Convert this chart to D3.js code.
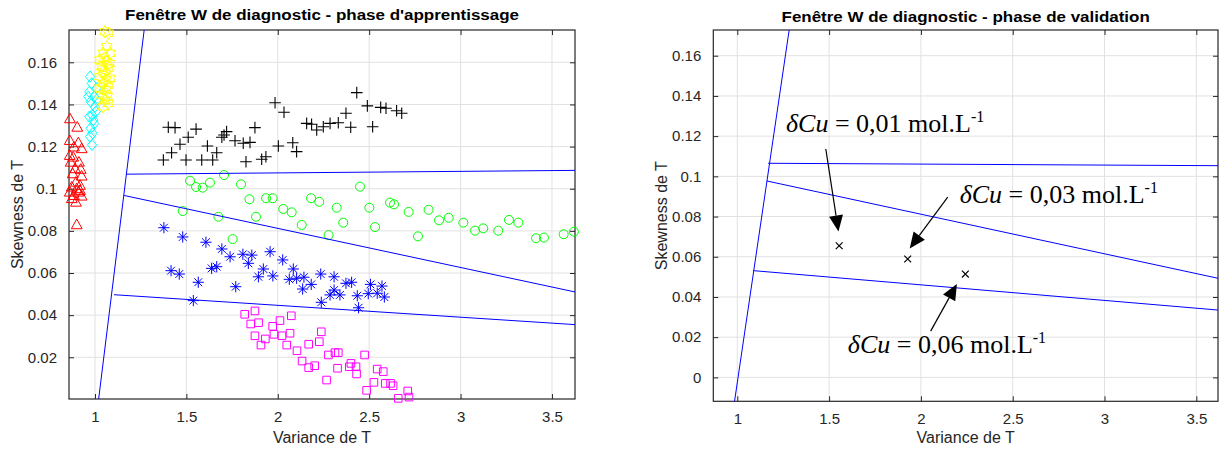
<!DOCTYPE html>
<html><head><meta charset="utf-8">
<script src="https://cdn.jsdelivr.net/npm/d3@7"></script>
<style>body{margin:0;background:#fff}</style>
</head><body>
<svg id="c" width="1220" height="450"></svg>
<script>
// ---------------- DATA ----------------
const xTicks = [1, 1.5, 2, 2.5, 3, 3.5];
const yTicksLeft = [0.02, 0.04, 0.06, 0.08, 0.1, 0.12, 0.14, 0.16];
const yTicksRight = [0, 0.02, 0.04, 0.06, 0.08, 0.1, 0.12, 0.14, 0.16];

const redTriangles = [[0.863,0.1334],[0.903,0.1294],[0.862,0.1231],[0.909,0.1220],[0.885,0.1200],[0.927,0.1192],
 [0.862,0.1160],[0.881,0.1152],[0.912,0.1128],[0.867,0.1128],[0.891,0.1097],[0.922,0.1094],[0.878,0.1073],
 [0.927,0.1062],[0.896,0.1033],[0.918,0.1018],[0.873,0.1010],[0.900,0.1002],[0.918,0.0994],[0.862,0.0986],
 [0.909,0.0986],[0.885,0.0970],[0.927,0.0967],[0.873,0.0955],[0.896,0.0938],[0.900,0.0831]];
const cyanDiamonds = [[0.973,0.1532],[0.982,0.1500],[1.009,0.1477],[0.969,0.1460],[0.995,0.1437],[0.963,0.1437],
 [1.009,0.1421],[0.976,0.1413],[1.000,0.1389],[1.005,0.1366],[0.984,0.1350],[0.969,0.1342],[0.991,0.1326],
 [0.996,0.1309],[0.976,0.1287],[0.987,0.1263],[0.973,0.1247],[0.984,0.1208]];
const yellowHexagrams = [[1.055,0.1745],[1.073,0.1738],[1.064,0.1674],[1.045,0.1643],[1.082,0.1643],[1.049,0.1619],
 [1.027,0.1611],[1.064,0.1603],[1.078,0.1595],[1.037,0.1579],[1.073,0.1572],[1.042,0.1555],[1.055,0.1548],
 [1.027,0.1532],[1.082,0.1524],[1.060,0.1516],[1.045,0.1500],[1.073,0.1492],[1.027,0.1477],[1.060,0.1469],
 [1.037,0.1445],[1.067,0.1437],[1.055,0.1421],[1.073,0.1405],[1.045,0.1389]];
const blackPlus = [[1.374,0.1136],[1.419,0.1171],[1.465,0.1211],[1.401,0.1292],[1.438,0.1290],[1.510,0.1244],
 [1.553,0.1283],[1.498,0.1136],[1.584,0.1136],[1.615,0.1203],[1.644,0.1136],[1.666,0.1171],[1.694,0.1244],
 [1.706,0.1255],[1.720,0.1271],[1.766,0.1228],[1.811,0.1216],[1.848,0.1220],[1.875,0.1290],[1.826,0.1128],
 [1.912,0.1140],[1.935,0.1152],[1.985,0.1408],[2.034,0.1363],[2.003,0.1203],[2.082,0.1218],[2.103,0.1176],
 [2.158,0.1310],[2.185,0.1306],[2.213,0.1279],[2.249,0.1294],[2.286,0.1310],[2.331,0.1313],[2.373,0.1358],
 [2.399,0.1292],[2.432,0.1456],[2.490,0.1393],[2.519,0.1294],[2.563,0.1386],[2.592,0.1382],[2.650,0.1370],
 [2.678,0.1358]];
const greenCircles = [[1.480,0.0894],[1.520,0.1038],[1.553,0.1008],[1.589,0.1005],[1.629,0.1029],[1.675,0.0867],
 [1.706,0.1065],[1.753,0.0761],[1.799,0.1021],[1.845,0.0950],[1.881,0.0867],[1.936,0.0955],[1.972,0.0955],
 [2.030,0.0904],[2.076,0.0888],[2.131,0.0828],[2.182,0.0955],[2.227,0.0938],[2.278,0.0780],[2.322,0.0910],
 [2.358,0.0839],[2.450,0.1010],[2.501,0.0910],[2.532,0.0818],[2.614,0.0934],[2.636,0.0926],[2.716,0.0890],
 [2.767,0.0774],[2.825,0.0900],[2.882,0.0850],[2.935,0.0862],[3.015,0.0839],[3.079,0.0801],[3.124,0.0812],
 [3.206,0.0801],[3.265,0.0852],[3.316,0.0839],[3.413,0.0765],[3.456,0.0768],[3.564,0.0784],[3.620,0.0796]];
const blueStars = [[1.377,0.0815],[1.480,0.0771],[1.607,0.0746],[1.694,0.0714],[1.739,0.0677],[1.809,0.0689],
 [1.858,0.0685],[1.839,0.0646],[1.958,0.0701],[2.027,0.0662],[2.085,0.0619],[1.416,0.0611],[1.461,0.0595],
 [1.565,0.0556],[1.638,0.0622],[1.666,0.0630],[1.770,0.0535],[1.894,0.0582],[1.921,0.0619],[1.973,0.0586],
 [2.063,0.0570],[2.103,0.0575],[2.143,0.0580],[2.136,0.0524],[2.183,0.0546],[1.538,0.0469],[2.235,0.0595],
 [2.308,0.0582],[2.308,0.0519],[2.286,0.0496],[2.340,0.0496],[2.238,0.0461],[2.373,0.0551],[2.404,0.0556],
 [2.435,0.0492],[2.442,0.0435],[2.507,0.0546],[2.495,0.0502],[2.544,0.0504],[2.570,0.0538],[2.583,0.0486]];
const magentaSquares = [[1.819,0.0404],[1.875,0.0420],[1.852,0.0358],[1.895,0.0364],[1.875,0.0302],[1.932,0.0287],
 [1.908,0.0258],[1.972,0.0347],[1.979,0.0309],[2.012,0.0374],[2.023,0.0302],[2.067,0.0314],[2.074,0.0397],
 [2.049,0.0258],[2.105,0.0231],[2.133,0.0182],[2.169,0.0151],[2.202,0.0160],[2.169,0.0262],[2.227,0.0274],
 [2.238,0.0321],[2.277,0.0211],[2.313,0.0222],[2.331,0.0222],[2.327,0.0148],[2.267,0.0092],[2.391,0.0155],
 [2.400,0.0171],[2.428,0.0155],[2.431,0.0121],[2.475,0.0211],[2.544,0.0144],[2.577,0.0132],[2.526,0.0081],
 [2.486,0.0043],[2.588,0.0076],[2.617,0.0076],[2.631,0.0065],[2.659,0.0005],[2.711,0.0040],[2.718,0.0011]];

// decision boundaries (segments) in data units
const boundariesLeft = [
  [[1.020,0.0002],[1.269,0.1753]],
  [[1.171,0.1069],[3.626,0.1087]],
  [[1.159,0.0968],[3.626,0.0510]],
  [[1.104,0.0497],[3.626,0.0355]]
];
const boundariesRight = [
  [[0.985,-0.0119],[1.2825,0.1728]],
  [[1.168,0.1065],[3.618,0.1053]],
  [[1.161,0.0977],[3.618,0.0493]],
  [[1.087,0.0531],[3.618,0.0335]]
];
const validationPoints = [[1.555,0.0655],[1.928,0.0589],[2.242,0.0514]];
const concentrations = ["0,01", "0,03", "0,06"];

// ---------------- LAYOUT ----------------
const svg = d3.select("#c");
const FONT = "'Liberation Sans', Arial, Helvetica, sans-serif";
const AX = "#262626";

const panels = [
  {title:"Fenêtre W de diagnostic - phase d'apprentissage", left:69, right:575, top:30, bottom:399,
   xd:[0.8578,3.626], yd:[0.00020,0.17533], yTicks:yTicksLeft, lines:boundariesLeft, titleY:20, id:"L"},
  {title:"Fenêtre W de diagnostic - phase de validation", left:713.3, right:1218, top:30, bottom:401.3,
   xd:[0.8693,3.618], yd:[-0.01189,0.17279], yTicks:yTicksRight, lines:boundariesRight, titleY:22, id:"R"}
];

function fmt(v){ return String(+v.toFixed(3)); }

// marker shapes
const shapes = {
  triangle: "M0,-5.2L5.4,4.4L-5.4,4.4Z",
  diamond: "M0,-5.6L4.6,0L0,5.6L-4.6,0Z",
  square: "M-3.8,-3.8H3.8V3.8H-3.8Z",
  plus: "M-5.8,0H5.8M0,-5.8V5.8",
  star: "M-5.6,0H5.6M0,-5.6V5.6M-3.9,-3.9L3.9,3.9M-3.9,3.9L3.9,-3.9",
  xmark: "M-3.4,-3.4L3.4,3.4M-3.4,3.4L3.4,-3.4",
  hexagram: (function(){
    const R=6.2, r=R/Math.sqrt(3); let p=[];
    for(let i=0;i<12;i++){const a=-Math.PI/2+i*Math.PI/6; const rr=i%2?r:R; p.push([rr*Math.cos(a),rr*Math.sin(a)]);}
    return "M"+p.map(d=>d[0].toFixed(2)+","+d[1].toFixed(2)).join("L")+"Z";
  })()
};

panels.forEach(P=>{
  const x = d3.scaleLinear().domain(P.xd).range([P.left,P.right]);
  const y = d3.scaleLinear().domain(P.yd).range([P.bottom,P.top]);
  P.x=x; P.y=y;
  const g = svg.append("g");
  const W=P.right-P.left, H=P.bottom-P.top;
  g.append("rect").attr("x",P.left).attr("y",P.top).attr("width",W).attr("height",H).attr("fill","#fff");
  // grid
  g.append("g").selectAll("line").data(xTicks).join("line")
    .attr("x1",d=>x(d)).attr("x2",d=>x(d)).attr("y1",P.top).attr("y2",P.bottom)
    .attr("stroke","#e1e1e1").attr("stroke-width",1);
  g.append("g").selectAll("line").data(P.yTicks).join("line")
    .attr("y1",d=>y(d)).attr("y2",d=>y(d)).attr("x1",P.left).attr("x2",P.right)
    .attr("stroke","#e1e1e1").attr("stroke-width",1);
  // axes using d3 axes (ticks inward)
  const ax = g.append("g").attr("transform",`translate(0,${P.bottom})`)
    .call(d3.axisBottom(x).tickValues(xTicks).tickFormat(fmt).tickSizeInner(-5).tickSizeOuter(0).tickPadding(12));
  const ay = g.append("g").attr("transform",`translate(${P.left},0)`)
    .call(d3.axisLeft(y).tickValues(P.yTicks).tickFormat(fmt).tickSizeInner(-5).tickSizeOuter(0).tickPadding(12));
  const axT = g.append("g").attr("transform",`translate(0,${P.top})`)
    .call(d3.axisTop(x).tickValues(xTicks).tickFormat("").tickSizeInner(-5).tickSizeOuter(0));
  const ayR = g.append("g").attr("transform",`translate(${P.right},0)`)
    .call(d3.axisRight(y).tickValues(P.yTicks).tickFormat("").tickSizeInner(-5).tickSizeOuter(0));
  [ax,ay,axT,ayR].forEach(a=>{
    a.select(".domain").remove();
    a.selectAll(".tick line").attr("stroke",AX);
    a.selectAll("text").attr("fill",AX).style("font-family",FONT).style("font-size","15px");
  });
  // box
  g.append("rect").attr("x",P.left).attr("y",P.top).attr("width",W).attr("height",H)
    .attr("fill","none").attr("stroke",AX).attr("stroke-width",1.2);
  // clip path
  svg.append("clipPath").attr("id","clip"+P.id).append("rect")
    .attr("x",P.left).attr("y",P.top).attr("width",W).attr("height",H);
  P.plot = svg.append("g");
  P.clipG = svg.append("g").attr("clip-path",`url(#clip${P.id})`);
  // title & labels
  svg.append("text").attr("transform",`translate(${(P.left+P.right)/2},${P.titleY}) scale(1.17,1)`)
    .attr("text-anchor","middle")
    .style("font-family",FONT).style("font-size","14.5px").style("font-weight","bold").attr("fill","#000")
    .text(P.title);
  svg.append("text").attr("x",(P.left+P.right)/2).attr("y",443).attr("text-anchor","middle")
    .style("font-family",FONT).style("font-size","16px").attr("fill",AX).text("Variance de T");
  svg.append("text").attr("transform",`translate(${P.left-46},${(P.top+P.bottom)/2}) rotate(-90)`)
    .attr("text-anchor","middle").style("font-family",FONT).style("font-size","16px").attr("fill",AX)
    .text("Skewness de T");
});

// ---------------- LEFT SCATTER ----------------
const L = panels[0];
function scatter(P, data, shape, color, sw){
  P.plot.append("g").selectAll("path").data(data).join("path")
    .attr("d",shapes[shape])
    .attr("transform",d=>`translate(${P.x(d[0])},${P.y(d[1])})`)
    .attr("fill","none").attr("stroke",color).attr("stroke-width",sw||1);
}
scatter(L, redTriangles, "triangle", "#ff0000");
scatter(L, cyanDiamonds, "diamond", "#00ffff");
scatter(L, yellowHexagrams, "hexagram", "#ffff00");
scatter(L, blackPlus, "plus", "#000000", 1.1);
L.plot.append("g").selectAll("circle").data(greenCircles).join("circle")
  .attr("cx",d=>L.x(d[0])).attr("cy",d=>L.y(d[1])).attr("r",4.5)
  .attr("fill","none").attr("stroke","#00ff00").attr("stroke-width",1);
scatter(L, blueStars, "star", "#0000ff");
scatter(L, magentaSquares, "square", "#ff00ff");

panels.forEach(P=>{
  P.clipG.selectAll("line.b").data(P.lines).join("line").attr("class","b")
    .attr("x1",d=>P.x(d[0][0])).attr("y1",d=>P.y(d[0][1]))
    .attr("x2",d=>P.x(d[1][0])).attr("y2",d=>P.y(d[1][1]))
    .attr("stroke","#0000ff").attr("stroke-width",1);
});

// ---------------- RIGHT: validation points & annotations ----------------
const R = panels[1];
scatter(R, validationPoints, "xmark", "#000000", 1.2);

const annotations = [
  {label:concentrations[0], tx:1.265, ty:0.1220, from:[1.482,0.1136], to:[1.551,0.0726]},
  {label:concentrations[1], tx:2.211, ty:0.0867, from:[2.146,0.0897], to:[1.939,0.0641]},
  {label:concentrations[2], tx:1.602, ty:0.0121, from:[2.053,0.0230], to:[2.196,0.0465]}
];
const ag = svg.append("g");
annotations.forEach(a=>{
  const x1=R.x(a.from[0]), y1=R.y(a.from[1]), x2=R.x(a.to[0]), y2=R.y(a.to[1]);
  const dx=x2-x1, dy=y2-y1, len=Math.hypot(dx,dy), ux=dx/len, uy=dy/len;
  const hl=16, hw=7;
  const bx=x2-ux*hl, by=y2-uy*hl;
  ag.append("line").attr("x1",x1).attr("y1",y1).attr("x2",bx).attr("y2",by)
    .attr("stroke","#000").attr("stroke-width",1.2);
  ag.append("path").attr("d",`M${x2},${y2}L${bx-uy*hw},${by+ux*hw}L${bx+uy*hw},${by-ux*hw}Z`)
    .attr("fill","#000");
  const t = ag.append("text").attr("x",R.x(a.tx)).attr("y",R.y(a.ty))
    .style("font-family","'Liberation Serif','Times New Roman',serif").style("font-size","26px").attr("fill","#000");
  t.append("tspan").style("font-style","italic").text("δCu");
  t.append("tspan").text(" = " + a.label + " mol.L");
  t.append("tspan").attr("dy",-10).style("font-size","16px").text("-1");
});
</script>
</body></html>
